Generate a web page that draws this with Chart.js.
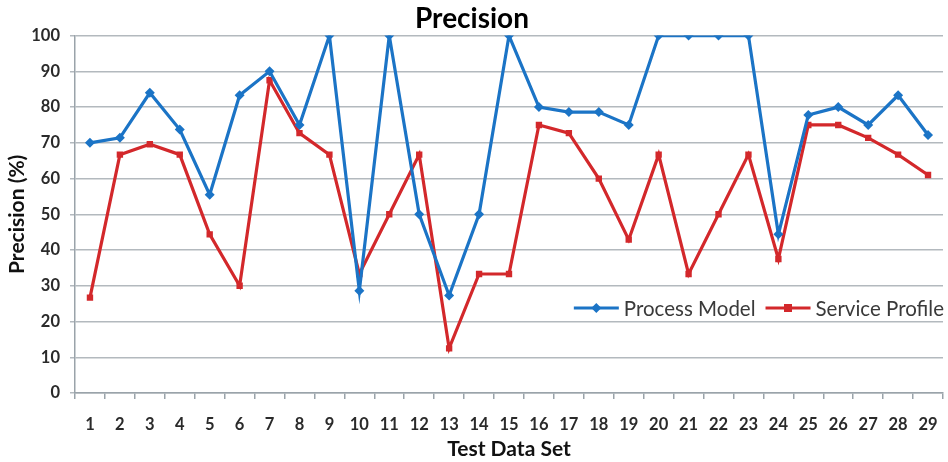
<!DOCTYPE html>
<html>
<head>
<meta charset="utf-8">
<script src="https://cdn.jsdelivr.net/npm/chart.js@4/dist/chart.umd.min.js"></script>
<style>
  html, body { margin: 0; padding: 0; background: #fff; }
  #wrap { width: 948px; height: 462px; position: relative; }
</style>
</head>
<body>
<div id="wrap"><canvas id="chart"></canvas></div>
<script>
// Test data sets 1..29
const testSets = ['1','2','3','4','5','6','7','8','9','10','11','12','13','14','15',
  '16','17','18','19','20','21','22','23','24','25','26','27','28','29'];

// Precision (%) per test data set
const processModel = [70, 71.4, 84, 73.7, 55.5, 83.3, 90, 75, 100, 28.6,
  100, 50, 27.3, 50, 100, 80, 78.6, 78.6, 75, 100,
  100, 100, 100, 44.4, 77.8, 80, 75, 83.3, 72.2];
const serviceProfile = [26.7, 66.7, 69.6, 66.7, 44.4, 30, 87.5, 72.7, 66.7, 33.3,
  50, 66.7, 12.5, 33.3, 33.3, 75, 72.7, 60, 42.9, 66.7,
  33.3, 50, 66.7, 37.5, 75, 75, 71.4, 66.7, 61];

const yTicks = [0, 10, 20, 30, 40, 50, 60, 70, 80, 90, 100];

const BLUE = '#1b74c6';
const RED = '#d3282b';
const FONT = 'Lato, "Open Sans", "DejaVu Sans", sans-serif';

// Legend drawn inside the plot area, lower right
const innerLegend = {
  id: 'innerLegend',
  afterDraw(chart) {
    const ctx = chart.ctx;
    const area = chart.chartArea;
    const y = area.bottom - 85;
    ctx.save();
    ctx.font = '20.5px ' + FONT;
    ctx.textBaseline = 'middle';
    const items = chart.data.datasets.map(ds => ({
      label: ds.label, color: ds.borderColor, style: ds.pointStyle
    }));
    const lineLen = 45, gapText = 5, gapItem = 10;
    let total = 0;
    items.forEach((it, i) => {
      it.w = ctx.measureText(it.label).width;
      total += lineLen + gapText + it.w + (i < items.length - 1 ? gapItem : 0);
    });
    let x = area.right + 1 - total;
    items.forEach(it => {
      ctx.strokeStyle = it.color;
      ctx.lineWidth = 3;
      ctx.beginPath();
      ctx.moveTo(x, y);
      ctx.lineTo(x + lineLen, y);
      ctx.stroke();
      const cx = x + lineLen / 2;
      ctx.fillStyle = it.color;
      ctx.beginPath();
      if (it.style === 'rect') {
        ctx.rect(cx - 4, y - 4, 8, 8);
      } else {
        ctx.moveTo(cx, y - 5);
        ctx.lineTo(cx + 5, y);
        ctx.lineTo(cx, y + 5);
        ctx.lineTo(cx - 5, y);
        ctx.closePath();
      }
      ctx.fill();
      ctx.fillStyle = '#3a3a3a';
      ctx.textAlign = 'left';
      ctx.fillText(it.label, x + lineLen + gapText, y + 1);
      x += lineLen + gapText + it.w + gapItem;
    });
    ctx.restore();
  }
};

new Chart(document.getElementById('chart'), {
  type: 'line',
  data: {
    labels: testSets,
    datasets: [
      {
        label: 'Process Model',
        data: processModel,
        borderColor: BLUE,
        backgroundColor: BLUE,
        borderWidth: 3.2,
        pointStyle: 'rectRot',
        pointRadius: 5,
        pointBorderWidth: 0,
        tension: 0
      },
      {
        label: 'Service Profile',
        data: serviceProfile,
        borderColor: RED,
        backgroundColor: RED,
        borderWidth: 3.2,
        pointStyle: 'rect',
        pointRadius: 4.5,
        pointBorderWidth: 0,
        tension: 0
      }
    ]
  },
  options: {
    responsive: true,
    maintainAspectRatio: false,
    animation: false,
    layout: { padding: { left: 0, right: 4, top: 0, bottom: 0 } },
    plugins: {
      legend: { display: false },
      tooltip: { enabled: false },
      title: {
        display: true,
        text: 'Precision',
        color: '#000',
        font: { family: FONT, size: 28, weight: 'bold' },
        padding: { top: 2, bottom: 0 }
      }
    },
    scales: {
      x: {
        offset: true,
        grid: {
          offset: true,
          drawOnChartArea: false,
          drawTicks: true,
          tickLength: 6,
          color: '#9aa3aa',
          lineWidth: 1.5
        },
        border: { color: '#9aa3aa', width: 1.5 },
        ticks: {
          color: '#2a2a2a',
          font: { family: FONT, size: 16.5, weight: 'bold' },
          padding: 16,
          maxRotation: 0,
          autoSkip: false
        },
        title: {
          display: true,
          text: 'Test Data Set',
          color: '#111',
          font: { family: FONT, size: 21, weight: 'bold' },
          padding: { top: 0, bottom: 0 }
        },
        afterFit(scale) {
          scale.height = 69;
          scale.paddingLeft = 0;
          scale.paddingRight = 0;
        }
      },
      y: {
        min: 0,
        max: 100,
        afterBuildTicks(scale) { scale.ticks = yTicks.map(v => ({ value: v })); },
        grid: {
          color: '#b3b9be',
          lineWidth: 1.5,
          drawTicks: true,
          tickLength: 5
        },
        border: { color: '#9aa3aa', width: 1.5 },
        ticks: {
          color: '#2a2a2a',
          font: { family: FONT, size: 16.5, weight: 'bold' },
          padding: 10
        },
        title: {
          display: true,
          text: 'Precision (%)',
          color: '#111',
          font: { family: FONT, size: 21, weight: 'bold' },
          padding: { top: 5, bottom: 0 }
        },
        afterFit(scale) { scale.width = 75; }
      }
    }
  },
  plugins: [innerLegend]
});
</script>
</body>
</html>
